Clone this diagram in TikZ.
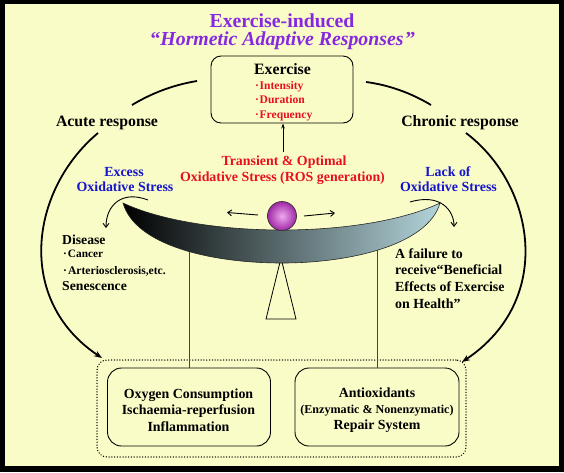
\documentclass[tikz,border=0pt]{standalone}
\usepackage{fontspec}
\setmainfont{Liberation Serif}
\usetikzlibrary{arrows.meta}
\definecolor{bg}{RGB}{250,252,200}
\definecolor{ttl}{RGB}{135,40,225}
\definecolor{rd}{RGB}{232,16,30}
\definecolor{bl}{RGB}{20,20,205}
\definecolor{beamR}{RGB}{178,212,218}
\definecolor{ballin}{RGB}{238,170,238}
\definecolor{ballout}{RGB}{160,40,165}
\definecolor{vln}{RGB}{70,70,50}
\newcommand\fsz[1]{\fontsize{#1}{#1}\selectfont}
\begin{document}
\begin{tikzpicture}[x=1pt,y=-1pt,
  txt/.style={inner sep=0pt,anchor=base},
  lft/.style={inner sep=0pt,anchor=base west},
  roundbox/.style={draw=black,line width=0.9pt,rounded corners=10pt,inner sep=0pt},
  dotbox/.style={draw=black,line width=1.4pt,dash pattern=on 0.1pt off 2.7pt,line cap=round,rounded corners=10pt,inner sep=0pt},
  bigarc/.style={line width=1.8pt},
  bigarrow/.style={line width=1.8pt,-{Stealth[length=8pt,width=6pt]}},
  smallarrow/.style={line width=0.9pt,-{Straight Barb[length=4pt,width=6pt]}},
  vline/.style={line width=0.8pt,draw=vln}]
\useasboundingbox (0,0) rectangle (564,472);
\fill[black] (0,0) rectangle (564,472);
\fill[bg] (4.5,4) rectangle (559,466);

% title
\node[txt,text=ttl,font=\bfseries\fsz{19.8}] (t1) at (282,27.7) {Exercise-induced};
\node[txt,text=ttl,font=\bfseries\fsz{19.8}] (t2) at (283,45.7) {“\textit{Hormetic Adaptive Responses}\kern2pt”};

% exercise box
\node[roundbox,minimum width=142pt,minimum height=67pt] (exbox) at (282,89.5) {};
\node[txt,font=\bfseries\fsz{15.8}] (ex) at (282.5,74) {Exercise};
\node[lft,text=rd,font=\bfseries\fsz{11.6}] (i1) at (255,89) {·\kern0.6pt Intensity};
\node[lft,text=rd,font=\bfseries\fsz{11.6}] (i2) at (255,103) {·\kern0.6pt Duration};
\node[lft,text=rd,font=\bfseries\fsz{11.6}] (i3) at (255,118) {·\kern0.6pt Frequency};

% transient text + arrow
\node[txt,text=rd,font=\bfseries\fsz{13.9}] (tr1) at (284,165.5) {Transient \& Optimal};
\node[txt,text=rd,font=\bfseries\fsz{13.9}] (tr2) at (282.5,181.5) {Oxidative Stress (ROS generation)};
\coordinate (arr0) at (283,152);
\draw[line width=0.8pt,-{Stealth[length=5pt,width=3.5pt]}] (arr0) -- (283,123.5);

% responses
\node[txt,font=\bfseries\fsz{15.8}] (acute) at (107,126) {Acute response};
\node[txt,font=\bfseries\fsz{15.8}] (chronic) at (460,126) {Chronic response};

\node[txt,text=bl,font=\bfseries\fsz{13.9}] (exc1) at (124,176.7) {Excess};
\node[txt,text=bl,font=\bfseries\fsz{13.9}] (exc2) at (125,191.7) {Oxidative Stress};
\node[txt,text=bl,font=\bfseries\fsz{13.9}] (lack1) at (448,176.5) {Lack of};
\node[txt,text=bl,font=\bfseries\fsz{13.9}] (lack2) at (448.5,191.7) {Oxidative Stress};

% big arcs
\coordinate (a1) at (132,105); \coordinate (a2) at (197,81);
\coordinate (a3) at (366,82);  \coordinate (a4) at (431,105);
\draw[bigarc] (a1) .. controls (152,93) and (173,85) .. (a2);
\draw[bigarc] (a3) .. controls (389,85) and (411,93) .. (a4);
\coordinate (l0) at (98,133); \coordinate (l1) at (102,358);
\coordinate (r0) at (466,133); \coordinate (r1) at (462,362);
\draw[bigarrow] (l0) .. controls (30,190) and (15,300) .. (l1);
\draw[bigarrow] (r0) .. controls (535,185) and (555,300) .. (r1);

% bottom boxes
\node[dotbox,minimum width=369pt,minimum height=97pt] (outer) at (281.5,408.5) {};
\node[roundbox,rounded corners=14pt,minimum width=163pt,minimum height=78pt] (ox) at (189,407) {};
\node[roundbox,rounded corners=14pt,minimum width=164pt,minimum height=78pt] (anti) at (377,407) {};
\node[txt,font=\bfseries\fsz{13.9}] (o1) at (188.5,398.3) {Oxygen Consumption};
\node[txt,font=\bfseries\fsz{13.9}] (o2) at (188.5,414.5) {Ischaemia-reperfusion};
\node[txt,font=\bfseries\fsz{13.9}] (o3) at (188.5,431) {Inflammation};
\node[txt,font=\bfseries\fsz{13.9}] (an1) at (377,397.7) {Antioxidants};
\node[txt,font=\bfseries\fsz{12.1}] (an2) at (377,413.3) {(Enzymatic \& Nonenzymatic)};
\node[txt,font=\bfseries\fsz{13.9}] (an3) at (377,429) {Repair System};

% vertical links
\coordinate (bl1) at (189,245); \coordinate (bl2) at (377,245);
\draw[vline] (ox.north) -- (bl1);
\draw[vline] (anti.north) -- (bl2);

% fulcrum
\coordinate (fa) at (281,258);
\draw[line width=0.8pt] (fa) -- (296,319) -- (266,319) -- cycle;

% beam
\shade[left color=black,right color=beamR,draw=black!85,line width=0.6pt]
  (123,203) .. controls (200,239) and (364,239) .. (440,203)
  .. controls (428,245) and (350,263) .. (282,263)
  .. controls (210,263) and (135,245) .. (123,203) -- cycle;

% ball
\shade[inner color=ballin,outer color=ballout] (282,216) circle[radius=14.5pt];
\draw[line width=0.7pt,draw=black!80] (282,216) circle[radius=14.5pt];
\coordinate (bL0) at (258,215); \coordinate (bL1) at (227,212.5);
\coordinate (bR0) at (304,216); \coordinate (bR1) at (335,213);
\draw[smallarrow] (bL0) -- (bL1);
\draw[smallarrow] (bR0) -- (bR1);

% small curved arrows
\coordinate (sL0) at (148,200); \coordinate (sL1) at (106,228);
\coordinate (sR0) at (410,202); \coordinate (sR1) at (454,227);
\draw[smallarrow] (sL0) .. controls (122,190) and (106,205) .. (sL1);
\draw[smallarrow] (sR0) .. controls (440,193) and (454,210) .. (sR1);

% disease
\node[lft,font=\bfseries\fsz{13.7}] (d1) at (62,244.3) {Disease};
\node[lft,font=\bfseries\fsz{11.3}] (d2) at (63,257.7) {·\kern1pt Cancer};
\node[lft,font=\bfseries\fsz{11.6}] (d3) at (63,274) {·\kern1pt Arteriosclerosis,etc.};
\node[lft,font=\bfseries\fsz{13.7}] (d4) at (62,290.7) {Senescence};

% failure
\node[lft,font=\bfseries\fsz{13.9}] (f1) at (395,258.3) {A failure to};
\node[lft,font=\bfseries\fsz{13.9}] (f2) at (395,274.3) {receive“Beneficial};
\node[lft,font=\bfseries\fsz{13.9}] (f3) at (395,291.7) {Effects of Exercise};
\node[lft,font=\bfseries\fsz{13.9}] (f4) at (395,308.3) {on Health”};
\end{tikzpicture}
\end{document}
